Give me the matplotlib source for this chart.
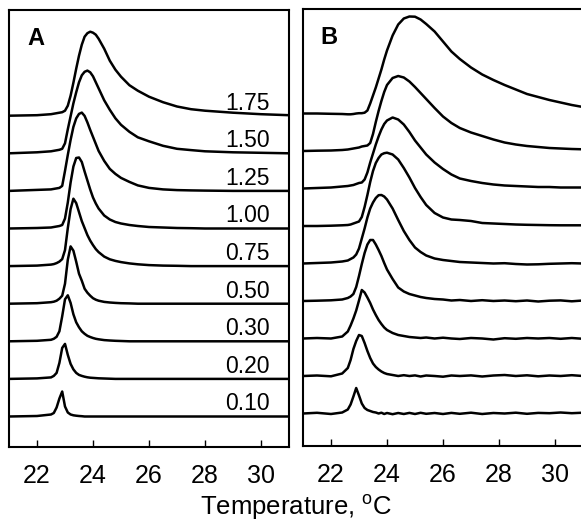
import matplotlib.pyplot as plt
import numpy as np

plt.rcParams['font.family'] = ['Liberation Sans', 'DejaVu Sans']
plt.rcParams['mathtext.fontset'] = 'custom'
plt.rcParams['mathtext.rm'] = 'Liberation Sans'

# curve labels (concentration), bottom to top
conc = ['0.10', '0.20', '0.30', '0.50', '0.75', '1.00', '1.25', '1.50', '1.75']
xticks = [22, 24, 26, 28, 30]

# temperature grid for panel A (deg C)
temp_a = [21.0, 22.0, 22.5, 22.6, 22.7, 22.8, 22.9, 23.0, 23.1, 23.2, 23.3, 23.4,
          23.5, 23.6, 23.7, 23.8, 23.9, 24.0, 24.1, 24.2, 24.4, 24.6, 24.8, 25.0,
          25.3, 25.6, 26.0, 26.5, 27.0, 27.5, 28.0, 29.0, 30.0, 31.0]

# excess heat capacity above baseline, arbitrary units (panel A)
a_010 = [0, 0.5, 2, 3.5, 9, 18, 25, 10, 4, 2, 1.2, 0.8, 0.5, 0.3, 0, 0, 0,
         0, 0, 0, 0, 0, 0, 0, 0, 0, 0, 0, 0, 0, 0, 0, 0, 0]
a_020 = [0, 0.5, 1.5, 3, 6, 16, 31, 35, 24, 15, 9.5, 6, 4, 3, 2.2, 1.6, 1.2,
         1, 0.8, 0.6, 0.4, 0.2, 0, 0, 0, 0, 0, 0, 0, 0, 0, 0, 0, 0]
a_030 = [0, 0.5, 1.5, 2.5, 4.5, 10, 25, 42, 46, 38.4, 27, 19, 14, 10, 7.5, 5.5, 4.3,
         3.3, 2.5, 2, 1.2, 0.8, 0.5, 0.3, 0, 0, 0, 0, 0, 0, 0, 0, 0, 0]
a_050 = [0, 0.5, 1.5, 2, 3, 5, 8, 20, 44, 57.3, 53, 42, 30, 23, 15, 11, 8,
         5.5, 4, 3, 1.8, 1.2, 0.8, 0.5, 0.3, 0, 0, 0, 0, 0, 0, 0, 0, 0]
a_075 = [0, 0.5, 1.5, 2, 3, 4.5, 7, 16, 38, 57, 67.4, 63, 54, 45, 38, 31, 25.5,
         21, 17, 14, 9.5, 6.8, 5.2, 4, 2.7, 1.8, 1, 0.5, 0.3, 0, 0, 0, 0, 0]
a_100 = [0, 0.5, 1, 1.5, 2, 2.5, 3.5, 10, 26, 46, 62, 70.5, 71, 66.5, 57, 48, 39,
         31, 25, 20, 13, 9, 6.5, 5, 3.5, 2.5, 1.5, 1, 0.5, 0.3, 0, 0, 0, 0]
a_125 = [0, 1, 1.5, 2, 2.5, 3, 5, 20, 36, 51, 64, 72.5, 77, 78.3, 75, 68.5, 61,
         54, 47, 40, 30, 22, 17, 13, 9, 5.5, 3, 1.5, 0.8, 0.5, 0.3, 0, 0, 0]
a_150 = [0, 1, 2, 2.5, 3, 3.5, 4.5, 10, 24, 37, 50, 61, 71, 78, 81.5, 82.7, 81,
         77, 71, 65, 53, 43.5, 35, 28.5, 21.5, 16, 12, 7.5, 4.5, 3.2, 2, 1, 0.5, 0]
a_175 = [0, 0.5, 1.5, 2, 2.5, 3, 3.5, 5, 10, 20, 33, 47, 60, 71, 79, 82.5, 84,
         83, 81, 77, 67, 55, 46, 39, 30.5, 25, 19, 13.5, 9.2, 6.5, 5, 3, 1.5, 0.5]

# temperature grid for panel B (deg C)
temp_b = [21.0, 21.5, 22.0, 22.4, 22.6, 22.7, 22.8, 22.9, 23.0, 23.1, 23.2, 23.3,
          23.4, 23.5, 23.6, 23.7, 23.8, 23.9, 24.0, 24.2, 24.4, 24.6, 24.8, 25.0,
          25.2, 25.4, 25.7, 26.0, 26.3, 26.6, 27.0, 27.4, 27.8, 28.2, 28.6, 29.0,
          29.4, 29.8, 30.2, 30.6, 31.0]

# panel B
b_010 = [0, 0.7, -0.5, 1, 4, 9, 17, 25.5, 18, 10, 5.5, 3.5, 2.5, 1.5, 1, 0, 0.8,
         -0.5, 0.5, -0.7, 0.5, -0.5, 0.6, -0.5, 0.7, -0.3, 0.5, -0.5, 0.6, -0.3,
         0.8, -0.5, 0.5, 0, 0.8, -0.3, 0.6, 0.3, 1, 0.3, 0.8]
b_020 = [0, 0.5, -0.3, 2.5, 8, 16, 27, 35, 41, 40, 33, 25, 18, 12.5, 9, 6.5, 4.5,
         3, 2, 1, 0, 0.8, 0, 0.6, -0.5, 0.5, 0, -0.7, 0.5, 0,
         0.6, -0.5, 0.5, 1, 0, 0.7, -0.3, 0.5, 0, 0.8, 0]
b_030 = [0, 0.5, 0, 2, 7, 13, 20, 28, 38, 48.5, 46, 41, 35.5, 29, 23.5, 18.5, 14.5,
         11, 8.5, 5.5, 3.5, 2.5, 1.5, 1, 0.5, 1, 0, 0.8, 0, -0.5,
         0.5, 0, -1, 0.3, -0.3, 0.5, 0, 0.5, -0.3, 0.5, -0.3]
b_050 = [0, 0.3, 0.7, 1.5, 3, 4.5, 7, 14, 25, 37, 48, 56.5, 61, 61, 56.5, 51, 45,
         38, 31.5, 22, 13.5, 9.5, 7, 5.5, 4, 3, 2, 1.5, 0.5, 1,
         0, 0.8, 0, 0.5, -0.2, 0.5, -0.5, 0.3, 0.6, -0.3, 0.5]
b_075 = [0, 0.5, 1, 2, 3, 4.5, 6, 9, 15, 25, 35, 46, 55, 61, 65.5, 68.3, 68.5,
         67, 64, 55, 43.5, 32.5, 23.5, 16, 11.5, 8, 5, 3.5, 2.5, 1.5,
         1, 0.5, 0, 0.3, -0.5, -1, -0.8, -0.3, 0, 0.3, 0]
b_100 = [0, 0, 0.3, 0.7, 1, 1.5, 2.5, 3.5, 4.5, 9, 19, 31, 44, 55, 63, 68, 71.5,
         72.8, 73.3, 71.5, 66.5, 58, 48.5, 38, 29, 21, 13, 8.5, 6.5, 6,
         5, 3, 2.5, 2, 1.5, 1.2, 1, 0.8, 0.7, 0.7, 0.7]
b_125 = [0, 0.5, 1, 2, 2.5, 3, 3.5, 4.5, 5.5, 6, 9, 16, 26, 35, 44, 52, 59,
         64.5, 68, 71, 69, 64, 56.5, 48, 41, 34, 26, 19.5, 14, 10,
         7.5, 5.5, 4, 3, 2.5, 2, 1.5, 1.5, 1, 1, 1]
b_150 = [0, 0.3, 0.5, 1, 1.5, 2, 2.5, 3, 3.5, 4.5, 5, 5.5, 8, 17, 29, 40, 50,
         59, 66, 73, 75, 73.5, 69.5, 64, 58, 52, 43, 34.5, 28, 23,
         18.5, 15, 11.5, 8.5, 6.5, 5, 4, 3, 2.5, 2, 1.7]
b_175 = [0, 0, -0.3, -0.5, -0.8, -0.8, -0.5, 0, 0.3, 0.3, 0.8, 3, 10, 18, 26, 35, 44,
         54, 63, 78, 89, 95, 97, 96.8, 94, 89.5, 82, 72, 62, 54.5,
         46, 39, 33.5, 28.5, 24, 19.5, 16.5, 13.5, 11, 8.5, 6.5]

curves_a = [a_010, a_020, a_030, a_050, a_075, a_100, a_125, a_150, a_175]
curves_b = [b_010, b_020, b_030, b_050, b_075, b_100, b_125, b_150, b_175]

fig = plt.figure(figsize=(5.81, 5.23), dpi=100)
ax_a = fig.add_axes([9 / 581, 76 / 523, 280 / 581, 437 / 523])
ax_b = fig.add_axes([303 / 581, 77 / 523, 280 / 581, 437 / 523])

# vertical stacking of the traces
for ax, temps, curves, base0, step in [(ax_a, temp_a, curves_a, 30.5, 37.6),
                                       (ax_b, temp_b, curves_b, 32.5, 37.5)]:
    for i, h in enumerate(curves):
        ax.plot(temps, np.array(h) + base0 + step * i, color='black', lw=1.8,
                solid_joinstyle='round')
    ax.set_xlim(21, 31)
    ax.set_ylim(0, 437)
    ax.set_yticks([])
    ax.set_xticks(xticks)
    ax.tick_params(axis='x', direction='in', length=5, width=1.0, pad=12,
                   labelsize=18, top=False)
    for s in ax.spines.values():
        s.set_linewidth(1.5)

for i, lab in enumerate(conc):
    ax_a.text(30.3, 30.5 + 37.6 * i + 6, lab, ha='right', va='baseline', fontsize=16.5)

ax_a.text(0.064, 0.962, 'A', transform=ax_a.transAxes, fontsize=17,
          fontweight='bold', va='top', ha='left')
ax_b.text(0.063, 0.962, 'B', transform=ax_b.transAxes, fontsize=17,
          fontweight='bold', va='top', ha='left')

fig.text(0.509, 8 / 523, r'Temperature, $^{\mathrm{o}}$C', ha='center',
         va='baseline', fontsize=18.5)

fig.savefig('out.png', dpi=100)
